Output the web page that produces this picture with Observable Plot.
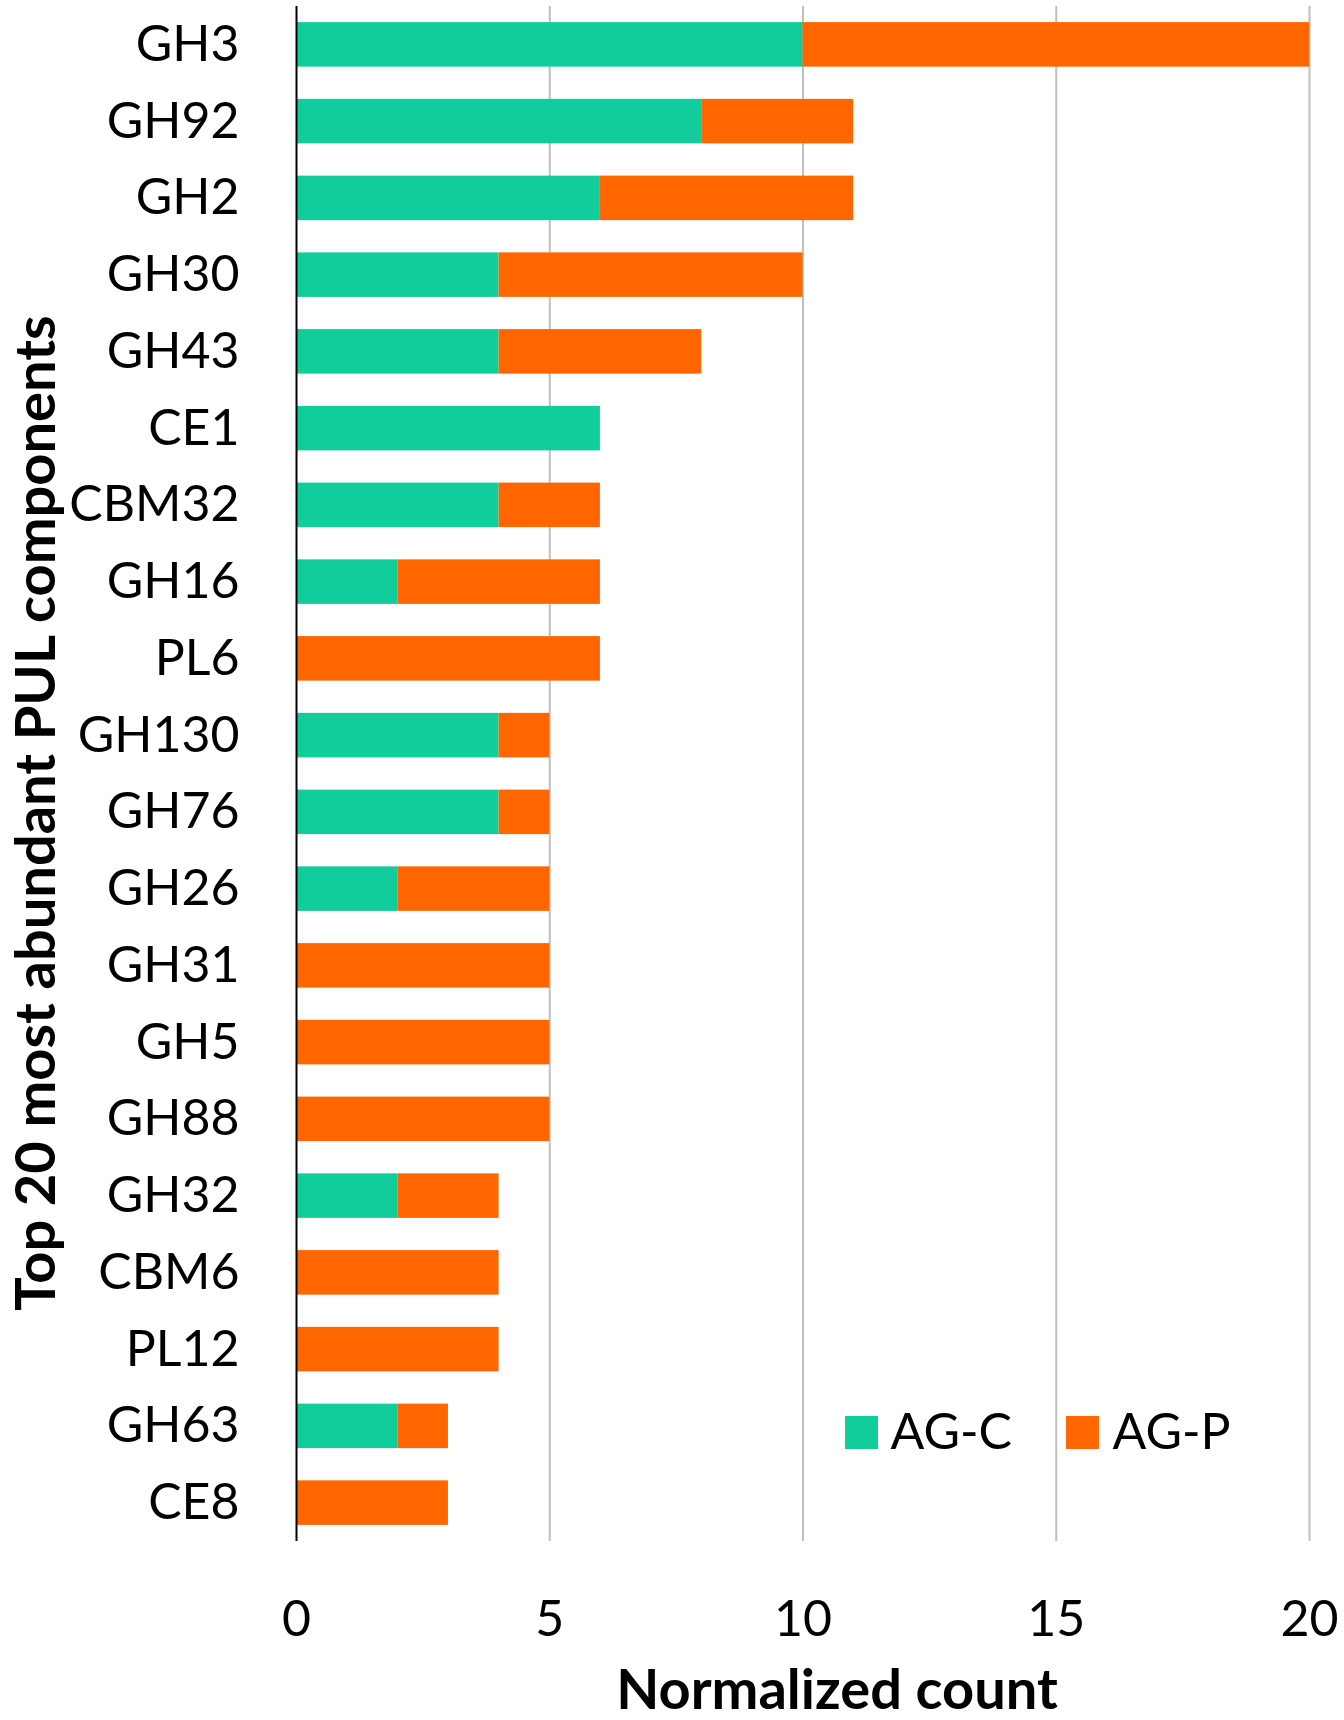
<!DOCTYPE html>
<html><head><meta charset="utf-8">
<script src="https://cdn.jsdelivr.net/npm/d3@7"></script>
<script src="https://cdn.jsdelivr.net/npm/@observablehq/plot@0.6"></script>
<style>body{margin:0;background:#fff;}</style>
</head><body><div id="chart"></div>
<script>
const categories = ["GH3","GH92","GH2","GH30","GH43","CE1","CBM32","GH16","PL6","GH130","GH76","GH26","GH31","GH5","GH88","GH32","CBM6","PL12","GH63","CE8"];
const agC = [10,8,6,4,4,6,4,2,0,4,4,2,0,0,0,2,0,0,2,0];
const agP = [10,3,5,6,4,0,2,4,6,1,1,3,5,5,5,2,4,4,1,3];
const seriesNames = ["AG-C","AG-P"];
const seriesColors = ["#10CD9B","#FF6600"];
const xTicks = [0,5,10,15,20];
const gridTicks = [5,10,15,20];
const xLabel = "Normalized count";
const yLabel = "Top 20 most abundant PUL components";

const seriesValues = [agC, agP];
const rows = categories.flatMap((c, i) => seriesNames.map((s, j) => ({category: c, series: s, value: seriesValues[j][i]})));

const chart = Plot.plot({
  width: 1344, height: 1720,
  marginLeft: 296, marginRight: 35, marginTop: 6, marginBottom: 179,
  style: {fontFamily: "Lato, sans-serif", fontSize: "50px", color: "#000", background: "#fff"},
  x: {domain: [0, 20], ticks: xTicks},
  y: {domain: categories, paddingInner: 0.42, paddingOuter: 0.21, round: false},
  color: {domain: seriesNames, range: seriesColors},
  marks: [
    Plot.ruleX(gridTicks, {stroke: "#bfbfbf", strokeWidth: 2}),
    Plot.barX(rows, Plot.stackX({x: "value", y: "category", fill: "series"})),
    Plot.ruleX([0], {stroke: "#000", strokeWidth: 2}),
    Plot.axisY({tickSize: 0, tickPadding: 57, label: null}),
    Plot.axisX({ticks: xTicks, tickSize: 0, tickPadding: 59, label: null}),
    Plot.text([xLabel], {frameAnchor: "bottom", text: d => d, textAnchor: "middle", dx: 34, dy: 167, lineAnchor: "bottom", fontWeight: "bold", fontSize: 56}),
    Plot.text([yLabel], {frameAnchor: "left", text: d => d, textAnchor: "middle", rotate: -90, dx: -242, dy: 39, lineAnchor: "bottom", fontWeight: "bold", fontSize: 56}),
    ...seriesNames.flatMap((s, i) => [
      Plot.dot([s], {frameAnchor: "bottom-left", fill: d => d, symbol: "square", r: 18.6, dx: 565 + i * 221, dy: -109}),
      Plot.text([s], {frameAnchor: "bottom-left", text: d => d, textAnchor: "start", lineAnchor: "middle", dx: 594 + i * 222, dy: -109})
    ])
  ]
});
document.getElementById("chart").appendChild(chart);
</script>
</body></html>
